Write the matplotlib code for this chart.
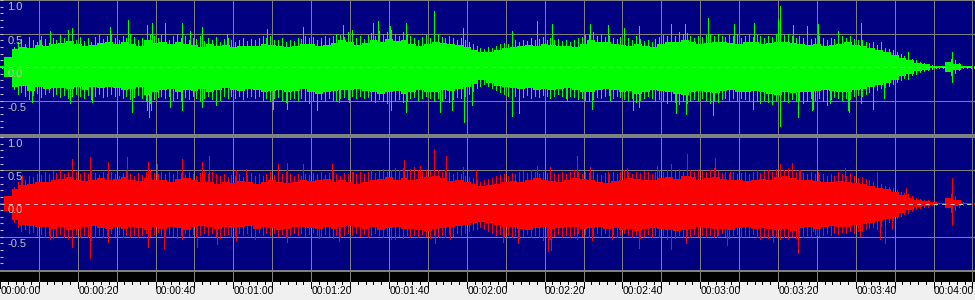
import numpy as np
import matplotlib.pyplot as plt

# dense body of each channel, one value every 2 s
env_t = np.arange(0, 252, 2)

green_hi = [0.01, 0.15, 0.27, 0.30, 0.29, 0.33, 0.31, 0.34, 0.36, 0.39,
            0.34, 0.31, 0.33, 0.36, 0.37, 0.34, 0.37, 0.35, 0.32, 0.40,
            0.36, 0.38, 0.35, 0.37, 0.34, 0.33, 0.30, 0.34, 0.32, 0.33,
            0.30, 0.31, 0.32, 0.31, 0.35, 0.33, 0.32, 0.30, 0.31, 0.35,
            0.34, 0.31, 0.33, 0.36, 0.40, 0.37, 0.33, 0.36, 0.40, 0.38,
            0.42, 0.39, 0.40, 0.35, 0.32, 0.35, 0.38, 0.36, 0.35, 0.33,
            0.30, 0.26, 0.22, 0.23, 0.26, 0.28, 0.30, 0.31, 0.33, 0.32,
            0.35, 0.33, 0.32, 0.31, 0.30, 0.35, 0.40, 0.38, 0.37, 0.34,
            0.33, 0.31, 0.35, 0.32, 0.30, 0.34, 0.38, 0.37, 0.40, 0.37,
            0.35, 0.36, 0.38, 0.37, 0.36, 0.35, 0.38, 0.37, 0.35, 0.36,
            0.37, 0.38, 0.36, 0.34, 0.33, 0.34, 0.32, 0.33, 0.34, 0.37,
            0.33, 0.32, 0.28, 0.25, 0.22, 0.18, 0.13, 0.10, 0.06, 0.04,
            0.02, 0.012, 0.07, 0.04, 0.012, 0.01]
green_lo = [0.01, 0.15, 0.30, 0.29, 0.36, 0.30, 0.33, 0.32, 0.31, 0.33,
            0.30, 0.34, 0.30, 0.32, 0.30, 0.32, 0.35, 0.33, 0.30, 0.42,
            0.37, 0.35, 0.33, 0.37, 0.34, 0.36, 0.33, 0.38, 0.35, 0.32,
            0.34, 0.36, 0.33, 0.35, 0.37, 0.36, 0.34, 0.38, 0.36, 0.33,
            0.38, 0.40, 0.37, 0.36, 0.34, 0.35, 0.33, 0.36, 0.38, 0.40,
            0.38, 0.36, 0.40, 0.37, 0.35, 0.38, 0.37, 0.35, 0.36, 0.33,
            0.30, 0.25, 0.20, 0.24, 0.28, 0.30, 0.32, 0.33, 0.31, 0.34,
            0.33, 0.35, 0.33, 0.32, 0.34, 0.37, 0.38, 0.35, 0.33, 0.35,
            0.38, 0.36, 0.40, 0.37, 0.34, 0.36, 0.38, 0.40, 0.42, 0.38,
            0.36, 0.38, 0.39, 0.36, 0.35, 0.37, 0.38, 0.36, 0.37, 0.40,
            0.42, 0.38, 0.39, 0.37, 0.38, 0.36, 0.35, 0.36, 0.37, 0.38,
            0.35, 0.33, 0.30, 0.27, 0.24, 0.19, 0.14, 0.10, 0.06, 0.04,
            0.02, 0.012, 0.07, 0.04, 0.012, 0.01]
red_hi = [0.01, 0.12, 0.22, 0.28, 0.30, 0.33, 0.32, 0.35, 0.37, 0.40,
          0.36, 0.34, 0.36, 0.38, 0.35, 0.37, 0.40, 0.36, 0.34, 0.38,
          0.36, 0.35, 0.33, 0.37, 0.38, 0.35, 0.33, 0.32, 0.30, 0.33,
          0.31, 0.34, 0.32, 0.30, 0.33, 0.35, 0.33, 0.31, 0.33, 0.36,
          0.34, 0.35, 0.37, 0.33, 0.35, 0.32, 0.30, 0.33, 0.36, 0.37,
          0.40, 0.36, 0.38, 0.35, 0.37, 0.40, 0.42, 0.38, 0.34, 0.36,
          0.33, 0.30, 0.26, 0.28, 0.30, 0.32, 0.34, 0.33, 0.36, 0.38,
          0.35, 0.34, 0.33, 0.36, 0.38, 0.37, 0.35, 0.33, 0.31, 0.34,
          0.36, 0.38, 0.37, 0.35, 0.36, 0.38, 0.40, 0.37, 0.42, 0.40,
          0.36, 0.38, 0.40, 0.37, 0.35, 0.36, 0.34, 0.35, 0.37, 0.36,
          0.40, 0.41, 0.38, 0.36, 0.35, 0.34, 0.33, 0.32, 0.34, 0.33,
          0.31, 0.29, 0.27, 0.24, 0.22, 0.18, 0.13, 0.09, 0.06, 0.04,
          0.02, 0.012, 0.08, 0.05, 0.012, 0.01]
red_lo = [0.01, 0.12, 0.25, 0.33, 0.34, 0.36, 0.35, 0.38, 0.36, 0.40,
          0.38, 0.36, 0.34, 0.37, 0.39, 0.36, 0.38, 0.35, 0.37, 0.40,
          0.36, 0.38, 0.35, 0.37, 0.40, 0.36, 0.34, 0.36, 0.38, 0.35,
          0.37, 0.36, 0.34, 0.38, 0.36, 0.37, 0.40, 0.38, 0.36, 0.35,
          0.37, 0.39, 0.36, 0.38, 0.35, 0.34, 0.36, 0.38, 0.36, 0.40,
          0.37, 0.36, 0.39, 0.38, 0.40, 0.42, 0.38, 0.37, 0.36, 0.34,
          0.33, 0.30, 0.28, 0.30, 0.33, 0.36, 0.35, 0.38, 0.40, 0.37,
          0.36, 0.38, 0.37, 0.36, 0.35, 0.38, 0.37, 0.36, 0.38, 0.37,
          0.40, 0.38, 0.42, 0.39, 0.37, 0.38, 0.40, 0.42, 0.40, 0.38,
          0.36, 0.37, 0.39, 0.38, 0.40, 0.37, 0.36, 0.38, 0.37, 0.39,
          0.40, 0.38, 0.41, 0.37, 0.36, 0.38, 0.35, 0.34, 0.36, 0.35,
          0.33, 0.31, 0.29, 0.27, 0.24, 0.20, 0.15, 0.10, 0.06, 0.04,
          0.02, 0.012, 0.07, 0.04, 0.012, 0.01]

# ragged peaks above the body, one per second
grass_t = np.arange(0, 251, 1)

green_grass_hi = [
    0.01, 0.02, 0.10, 0.30, 0.38, 0.42, 0.35, 0.45, 0.40, 0.38, 0.47,
    0.42, 0.36, 0.44, 0.40, 0.48, 0.43, 0.50, 0.46, 0.41, 0.45,
    0.39, 0.43, 0.37, 0.45, 0.48, 0.42, 0.46, 0.50, 0.44, 0.41,
    0.47, 0.43, 0.49, 0.45, 0.40, 0.44, 0.38, 0.50, 0.47, 0.43,
    0.48, 0.45, 0.41, 0.46, 0.50, 0.43, 0.47, 0.40, 0.44, 0.42,
    0.46, 0.39, 0.43, 0.41, 0.45, 0.38, 0.42, 0.44, 0.40, 0.37,
    0.41, 0.43, 0.39, 0.42, 0.40, 0.44, 0.46, 0.43, 0.47, 0.41,
    0.40, 0.43, 0.38, 0.41, 0.39, 0.44, 0.42, 0.46, 0.43, 0.45,
    0.41, 0.44, 0.47, 0.43, 0.46, 0.50, 0.48, 0.45, 0.52, 0.47,
    0.43, 0.46, 0.42, 0.48, 0.51, 0.46, 0.53, 0.49, 0.52, 0.55,
    0.50, 0.47, 0.52, 0.49, 0.46, 0.43, 0.41, 0.45, 0.48, 0.44,
    0.47, 0.50, 0.45, 0.43, 0.46, 0.44, 0.41, 0.43, 0.40, 0.37,
    0.34, 0.31, 0.28, 0.27, 0.30, 0.29, 0.32, 0.34, 0.36, 0.35,
    0.38, 0.40, 0.37, 0.41, 0.39, 0.43, 0.40, 0.42, 0.45, 0.41,
    0.44, 0.40, 0.42, 0.39, 0.41, 0.38, 0.40, 0.43, 0.45, 0.48,
    0.50, 0.52, 0.47, 0.49, 0.45, 0.47, 0.44, 0.42, 0.45, 0.41,
    0.43, 0.40, 0.46, 0.42, 0.39, 0.41, 0.38, 0.42, 0.45, 0.48,
    0.46, 0.50, 0.47, 0.52, 0.49, 0.51, 0.46, 0.44, 0.47, 0.45,
    0.48, 0.50, 0.46, 0.49, 0.47, 0.45, 0.48, 0.46, 0.50, 0.44,
    0.47, 0.49, 0.45, 0.48, 0.46, 0.43, 0.47, 0.45, 0.49, 0.46,
    0.48, 0.50, 0.46, 0.44, 0.47, 0.43, 0.45, 0.42, 0.44, 0.46,
    0.43, 0.41, 0.44, 0.42, 0.45, 0.47, 0.44, 0.46, 0.42, 0.40,
    0.41, 0.38, 0.36, 0.34, 0.33, 0.31, 0.29, 0.27, 0.25, 0.22,
    0.19, 0.17, 0.15, 0.12, 0.10, 0.08, 0.06, 0.05, 0.03, 0.02,
    0.015, 0.015, 0.02, 0.12, 0.10, 0.06, 0.02, 0.015, 0.015, 0.015]
green_grass_lo = [
    0.01, 0.02, 0.10, 0.33, 0.41, 0.38, 0.44, 0.48, 0.42, 0.39, 0.45,
    0.41, 0.38, 0.43, 0.40, 0.45, 0.42, 0.47, 0.44, 0.40, 0.43,
    0.46, 0.42, 0.48, 0.44, 0.41, 0.45, 0.43, 0.40, 0.44, 0.42,
    0.46, 0.43, 0.48, 0.45, 0.42, 0.47, 0.50, 0.53, 0.48, 0.45,
    0.43, 0.47, 0.44, 0.49, 0.46, 0.50, 0.45, 0.48, 0.44, 0.47,
    0.50, 0.46, 0.43, 0.48, 0.45, 0.49, 0.44, 0.47, 0.43, 0.46,
    0.44, 0.48, 0.45, 0.43, 0.47, 0.44, 0.49, 0.46, 0.50, 0.47,
    0.45, 0.49, 0.52, 0.48, 0.46, 0.50, 0.47, 0.51, 0.53, 0.49,
    0.52, 0.48, 0.50, 0.46, 0.49, 0.51, 0.47, 0.45, 0.48, 0.44,
    0.46, 0.43, 0.47, 0.45, 0.49, 0.52, 0.48, 0.50, 0.53, 0.49,
    0.51, 0.48, 0.52, 0.50, 0.47, 0.45, 0.49, 0.46, 0.44, 0.47,
    0.50, 0.46, 0.49, 0.47, 0.52, 0.48, 0.45, 0.47, 0.43, 0.40,
    0.36, 0.32, 0.28, 0.26, 0.29, 0.31, 0.34, 0.37, 0.40, 0.43,
    0.47, 0.44, 0.48, 0.45, 0.42, 0.46, 0.43, 0.45, 0.42, 0.44,
    0.46, 0.43, 0.41, 0.44, 0.47, 0.43, 0.45, 0.48, 0.46, 0.49,
    0.51, 0.48, 0.45, 0.47, 0.44, 0.42, 0.46, 0.43, 0.45, 0.48,
    0.50, 0.47, 0.52, 0.49, 0.46, 0.44, 0.47, 0.50, 0.48, 0.51,
    0.53, 0.49, 0.52, 0.55, 0.51, 0.54, 0.50, 0.48, 0.51, 0.47,
    0.50, 0.53, 0.49, 0.52, 0.48, 0.46, 0.50, 0.47, 0.49, 0.46,
    0.48, 0.51, 0.47, 0.50, 0.53, 0.49, 0.52, 0.55, 0.51, 0.54,
    0.50, 0.52, 0.48, 0.51, 0.49, 0.47, 0.50, 0.46, 0.49, 0.47,
    0.50, 0.46, 0.48, 0.45, 0.47, 0.49, 0.46, 0.48, 0.44, 0.42,
    0.43, 0.40, 0.38, 0.36, 0.34, 0.32, 0.30, 0.28, 0.25, 0.22,
    0.20, 0.17, 0.15, 0.12, 0.10, 0.08, 0.06, 0.05, 0.03, 0.02,
    0.015, 0.015, 0.02, 0.12, 0.09, 0.05, 0.02, 0.015, 0.015, 0.015]
red_grass_hi = [
    0.01, 0.02, 0.08, 0.25, 0.32, 0.38, 0.36, 0.42, 0.40, 0.45, 0.43,
    0.47, 0.44, 0.49, 0.46, 0.50, 0.45, 0.48, 0.52, 0.47, 0.44,
    0.48, 0.45, 0.50, 0.46, 0.43, 0.47, 0.44, 0.48, 0.45, 0.42,
    0.46, 0.49, 0.45, 0.42, 0.46, 0.43, 0.47, 0.50, 0.46, 0.44,
    0.47, 0.44, 0.48, 0.45, 0.49, 0.46, 0.43, 0.47, 0.44, 0.42,
    0.46, 0.49, 0.45, 0.48, 0.44, 0.41, 0.44, 0.40, 0.43, 0.41,
    0.44, 0.40, 0.43, 0.46, 0.42, 0.45, 0.41, 0.44, 0.47, 0.43,
    0.46, 0.44, 0.48, 0.45, 0.42, 0.44, 0.41, 0.45, 0.43, 0.46,
    0.44, 0.47, 0.43, 0.46, 0.49, 0.45, 0.42, 0.46, 0.44, 0.47,
    0.45, 0.48, 0.44, 0.47, 0.50, 0.46, 0.49, 0.52, 0.48, 0.51,
    0.54, 0.50, 0.53, 0.49, 0.52, 0.55, 0.51, 0.48, 0.52, 0.49,
    0.53, 0.50, 0.47, 0.51, 0.48, 0.45, 0.47, 0.44, 0.42, 0.40,
    0.38, 0.36, 0.33, 0.35, 0.37, 0.39, 0.41, 0.43, 0.45, 0.42,
    0.46, 0.44, 0.47, 0.49, 0.46, 0.50, 0.47, 0.45, 0.48, 0.46,
    0.49, 0.46, 0.44, 0.47, 0.45, 0.48, 0.51, 0.47, 0.45, 0.48,
    0.46, 0.49, 0.45, 0.43, 0.46, 0.44, 0.47, 0.45, 0.48, 0.50,
    0.47, 0.45, 0.48, 0.46, 0.49, 0.47, 0.44, 0.48, 0.51, 0.47,
    0.50, 0.53, 0.49, 0.52, 0.48, 0.55, 0.51, 0.48, 0.52, 0.49,
    0.47, 0.50, 0.53, 0.49, 0.46, 0.48, 0.45, 0.47, 0.44, 0.46,
    0.48, 0.45, 0.47, 0.50, 0.46, 0.49, 0.51, 0.48, 0.52, 0.54,
    0.51, 0.53, 0.49, 0.47, 0.50, 0.46, 0.44, 0.47, 0.45, 0.43,
    0.45, 0.42, 0.44, 0.41, 0.43, 0.45, 0.42, 0.44, 0.41, 0.39,
    0.40, 0.37, 0.35, 0.33, 0.31, 0.29, 0.27, 0.25, 0.23, 0.21,
    0.18, 0.16, 0.14, 0.11, 0.09, 0.07, 0.06, 0.05, 0.03, 0.02,
    0.015, 0.015, 0.02, 0.15, 0.12, 0.06, 0.02, 0.015, 0.015, 0.015]
red_grass_lo = [
    0.01, 0.02, 0.08, 0.28, 0.36, 0.41, 0.39, 0.45, 0.43, 0.48, 0.46,
    0.50, 0.47, 0.52, 0.49, 0.46, 0.50, 0.53, 0.49, 0.46, 0.50,
    0.47, 0.51, 0.55, 0.50, 0.47, 0.51, 0.48, 0.45, 0.49, 0.46,
    0.50, 0.47, 0.44, 0.48, 0.51, 0.47, 0.45, 0.49, 0.46, 0.43,
    0.47, 0.50, 0.46, 0.49, 0.52, 0.48, 0.45, 0.49, 0.46, 0.50,
    0.47, 0.44, 0.48, 0.45, 0.49, 0.52, 0.48, 0.46, 0.50, 0.47,
    0.44, 0.48, 0.45, 0.49, 0.46, 0.43, 0.47, 0.44, 0.48, 0.45,
    0.49, 0.46, 0.50, 0.47, 0.44, 0.48, 0.45, 0.49, 0.46, 0.43,
    0.47, 0.50, 0.46, 0.49, 0.52, 0.48, 0.51, 0.47, 0.44, 0.48,
    0.45, 0.49, 0.46, 0.50, 0.47, 0.44, 0.48, 0.51, 0.47, 0.50,
    0.53, 0.49, 0.52, 0.48, 0.51, 0.47, 0.50, 0.46, 0.49, 0.52,
    0.48, 0.51, 0.47, 0.50, 0.46, 0.49, 0.45, 0.48, 0.44, 0.42,
    0.40, 0.38, 0.36, 0.39, 0.42, 0.45, 0.48, 0.46, 0.50, 0.47,
    0.51, 0.48, 0.52, 0.49, 0.46, 0.50, 0.47, 0.51, 0.55, 0.50,
    0.53, 0.49, 0.46, 0.50, 0.47, 0.51, 0.48, 0.45, 0.49, 0.46,
    0.50, 0.47, 0.44, 0.48, 0.45, 0.49, 0.46, 0.50, 0.47, 0.44,
    0.48, 0.51, 0.47, 0.52, 0.49, 0.46, 0.50, 0.47, 0.51, 0.48,
    0.53, 0.49, 0.52, 0.48, 0.51, 0.47, 0.50, 0.46, 0.49, 0.47,
    0.50, 0.47, 0.51, 0.48, 0.45, 0.49, 0.52, 0.48, 0.46, 0.50,
    0.47, 0.49, 0.46, 0.50, 0.53, 0.49, 0.52, 0.48, 0.51, 0.54,
    0.50, 0.53, 0.49, 0.52, 0.48, 0.51, 0.47, 0.50, 0.46, 0.49,
    0.47, 0.45, 0.48, 0.44, 0.46, 0.43, 0.45, 0.42, 0.44, 0.41,
    0.42, 0.39, 0.37, 0.35, 0.38, 0.34, 0.31, 0.28, 0.25, 0.22,
    0.19, 0.16, 0.14, 0.11, 0.09, 0.07, 0.06, 0.05, 0.03, 0.02,
    0.015, 0.015, 0.02, 0.13, 0.10, 0.05, 0.02, 0.015, 0.015, 0.015]

# single tall peaks (seconds, amplitude)
green_spk_t = [10.3, 12.9, 17.5, 18.5, 28.3, 32.9, 37.8, 39.1, 42.4, 46.8,
               48.8, 51.9, 58.4, 68.6, 77.9, 88.2, 90.5, 95.9, 97.2, 100.3,
               104.4, 111.6, 119.0, 131.6, 138.0, 141.9, 151.7, 156.3, 160.4, 164.3,
               172.5, 176.1, 182.0, 188.7, 193.8, 200.0, 200.5, 203.9, 207.5, 210.3,
               215.4, 221.3, 224.4, 226.5, 233.4, 244.7,
               8.2, 18.0, 23.7, 33.9, 37.8, 38.3, 38.8, 43.7, 46.8, 51.9,
               55.5, 70.2, 73.8, 81.5, 87.1, 89.7, 100.5, 104.4, 113.1, 116.2,
               119.3, 121.3, 131.6, 133.4, 145.8, 152.2, 156.8, 162.7, 164.3, 173.8,
               176.3, 183.3, 193.6, 200.5, 205.1, 206.4, 208.7, 209.0, 212.6, 213.4,
               218.0, 218.3, 221.3, 224.4, 227.2, 233.4, 244.7]
green_spk_a = [0.40, 0.53, 0.55, 0.58, 0.60, 0.70, 0.63, 0.65, 0.66, 0.65,
               0.53, 0.60, 0.50, 0.56, 0.60, 0.63, 0.55, 0.66, 0.68, 0.61,
               0.65, 0.84, 0.58, 0.53, 0.68, 0.64, 0.64, 0.63, 0.58, 0.61,
               0.64, 0.64, 0.73, 0.64, 0.66, 0.71, 0.91, 0.63, 0.61, 0.64,
               0.54, 0.65, 0.38, 0.38, 0.23, 0.23,
               -0.52, -0.54, -0.52, -0.67, -0.64, -0.74, -0.64, -0.59, -0.64, -0.60,
               -0.57, -0.62, -0.62, -0.64, -0.52, -0.52, -0.64, -0.67, -0.67, -0.64,
               -0.82, -0.57, -0.73, -0.69, -0.49, -0.63, -0.49, -0.64, -0.60, -0.69,
               -0.70, -0.72, -0.63, -0.88, -0.75, -0.54, -0.64, -0.62, -0.57, -0.54,
               -0.64, -0.67, -0.54, -0.62, -0.47, -0.18, -0.22]
red_spk_t = [5.7, 12.6, 18.5, 23.1, 27.8, 32.6, 38.0, 40.4, 46.8, 51.9,
             53.7, 60.7, 63.2, 71.5, 73.8, 77.9, 85.3, 90.7, 103.9, 108.0,
             111.6, 114.7, 119.0, 122.4, 138.0, 141.4, 148.3, 151.7, 156.3, 161.2,
             168.9, 172.5, 176.6, 183.8, 187.7, 200.5, 203.6, 205.7, 210.3, 215.4,
             217.2, 225.4, 232.9, 244.7,
             5.1, 12.9, 18.5, 23.1, 27.8, 33.4, 38.0, 42.2, 46.8, 50.6,
             55.8, 60.7, 65.6, 73.8, 82.0, 87.1, 100.5, 111.8, 115.7, 129.3,
             133.2, 140.9, 141.6, 148.3, 152.2, 157.3, 164.3, 172.5, 176.3, 184.3,
             186.9, 198.7, 205.1, 209.0, 210.0, 221.1, 226.2, 227.5, 229.3, 244.7]
red_spk_a = [0.43, 0.45, 0.67, 0.70, 0.62, 0.70, 0.62, 0.60, 0.67, 0.62,
             0.72, 0.50, 0.52, 0.60, 0.61, 0.60, 0.60, 0.48, 0.65, 0.57,
             0.82, 0.71, 0.55, 0.50, 0.56, 0.55, 0.71, 0.55, 0.48, 0.54,
             0.57, 0.60, 0.74, 0.69, 0.48, 0.60, 0.61, 0.51, 0.48, 0.48,
             0.54, 0.48, 0.23, 0.38,
             -0.33, -0.53, -0.65, -0.82, -0.58, -0.50, -0.65, -0.67, -0.54, -0.65,
             -0.61, -0.55, -0.53, -0.58, -0.52, -0.57, -0.53, -0.60, -0.53, -0.58,
             -0.60, -0.72, -0.70, -0.53, -0.55, -0.53, -0.67, -0.69, -0.60, -0.50,
             -0.63, -0.58, -0.74, -0.41, -0.48, -0.49, -0.53, -0.59, -0.38, -0.31]

grid_t = np.arange(10, 251, 10)
major_t = np.arange(0, 251, 10)
minor_t = np.arange(0, 251, 2)
label_t = np.arange(0, 241, 20)
tick_labels = ['00:00:00', '00:00:20', '00:00:40', '00:01:00', '00:01:20',
               '00:01:40', '00:02:00', '00:02:20', '00:02:40', '00:03:00',
               '00:03:20', '00:03:40', '00:04:00']
y_levels = [1.0, 0.5, 0.0, -0.5]
y_labels = ['1.0', '0.5', '0.0', '-0.5']

W, H = 975, 300
T_END = W / 3.89
NAVY = '#000080'
GRID = '#808080'
LIGHT = '#c0c0c0'
PX = 0.6   # one-pixel line width for non-antialiased lines

fig = plt.figure(figsize=(W / 100, H / 100), dpi=100, facecolor='#f0f0f0')


def px_axes(top, bottom):
    return fig.add_axes([0, 1 - bottom / H, 1, (bottom - top) / H])


def channel(ax, hi, lo, g_hi, g_lo, spk_t, spk_a, color, ylim):
    ax.set_facecolor(NAVY)
    ax.set_xlim(0, T_END)
    ax.set_ylim(*ylim)
    for s in ax.spines.values():
        s.set_visible(False)
    ax.set_xticks([])
    ax.set_yticks([])
    ax.set_yticks(np.arange(-1.0, 1.01, 0.1), minor=True)
    ax.tick_params(axis='y', which='minor', direction='in', length=2,
                   width=0.8, color=LIGHT, labelleft=False)
    ax.vlines(grid_t, -1.1, 1.1, color=GRID, lw=PX, zorder=1, antialiased=False)
    for lv in (1.0, 0.5, -0.5):
        ax.axhline(lv, color=GRID, lw=PX if lv != 1.0 else 1.4, zorder=1,
                   antialiased=False)
    ax.fill_between(env_t, -np.array(lo), hi, step='mid', color=color, lw=0,
                    zorder=2, antialiased=False)
    ax.vlines(grass_t + 0.5, -np.array(g_lo), g_hi, color=color, lw=PX,
              zorder=2, antialiased=False)
    ax.vlines(spk_t, 0, spk_a, color=color, lw=PX, zorder=2, antialiased=False)
    ax.axhline(0, color=LIGHT, lw=0.75, ls=(0, (4, 4)), zorder=4)
    for lv, s in zip(y_levels, y_labels):
        ax.text(1.9, lv - 0.03, s, color=LIGHT, fontsize=8, family='Liberation Sans',
                ha='left', va='top', zorder=5)


ax_top = px_axes(0, 134)
channel(ax_top, green_hi, green_lo, green_grass_hi, green_grass_lo,
        green_spk_t, green_spk_a, '#00ff00', (-1.0, 1.0))

ax_bot = px_axes(137, 270)
channel(ax_bot, red_hi, red_lo, red_grass_hi, red_grass_lo,
        red_spk_t, red_spk_a, '#ff0000', (-(270 - 204) / 68, (204 - 137) / 68))

fig.add_artist(plt.Rectangle((0, 1 - 137 / H), 1, 3 / H, transform=fig.transFigure,
                             color=GRID, lw=0))

# time ruler
ax_r = px_axes(270, 300)
ax_r.set_xlim(0, T_END)
ax_r.set_ylim(30, 0)
ax_r.axis('off')
ax_r.axhspan(0, 2, color=GRID, lw=0)
ax_r.axhspan(2, 12, color='black', lw=0)
ax_r.vlines(grid_t, 2, 12, color=GRID, lw=PX, antialiased=False)
ax_r.vlines(major_t, 12, 17.5, color='black', lw=PX, antialiased=False)
ax_r.vlines(minor_t, 12, 14, color='black', lw=PX, antialiased=False)
for t, s in zip(label_t, tick_labels):
    ax_r.text(t + 0.1, 16.5, s, fontsize=7.5, family='Liberation Sans',
              ha='left', va='top', color='black')

fig.savefig('out.png', dpi=100, facecolor=fig.get_facecolor())
